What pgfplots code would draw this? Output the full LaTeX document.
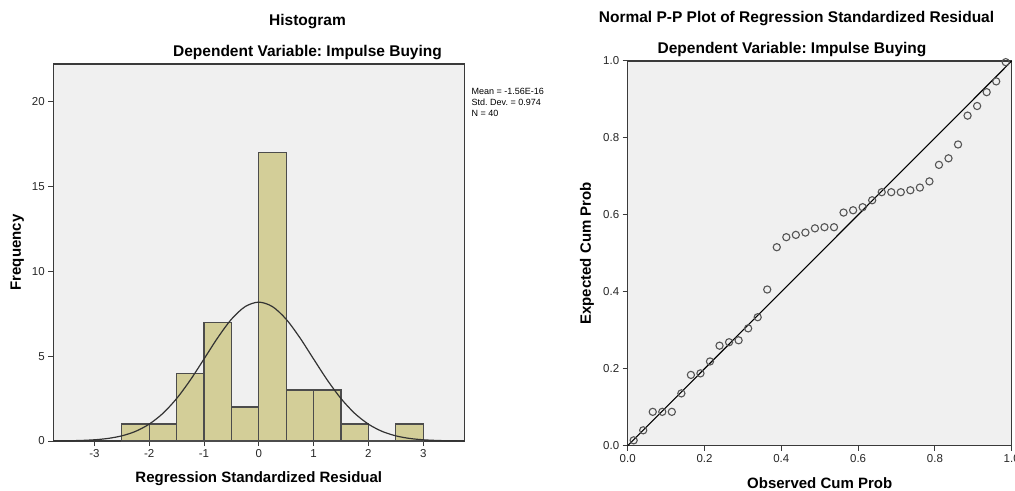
\documentclass[border=0pt]{standalone}
\usepackage{pgfplots}
\pgfplotsset{compat=1.18}
\usepackage{fontspec}
\setmainfont{Liberation Sans}
\frenchspacing
\definecolor{barfill}{HTML}{D3CE98}
\definecolor{bgc}{HTML}{F0F0F0}
\definecolor{axc}{HTML}{3A3A3A}
\definecolor{ptc}{HTML}{555555}
\begin{document}
\begin{tikzpicture}
\pgfplotsset{
  spssaxis/.style={
    scale only axis,
    anchor=south west,
    axis background/.style={fill=bgc},
    axis line style={draw=axc, line width=1.2bp},
    tick align=outside,
    xtick pos=bottom, ytick pos=left,
    major tick length=5bp,
    tick style={draw=axc, line width=1bp},
    tick label style={font=\fontsize{11.5bp}{13bp}\selectfont, text=black!85},
    label style={font=\fontsize{15bp}{18bp}\selectfont\bfseries},
    xlabel style={anchor=center},
    ylabel style={anchor=center, rotate=0},
    /pgf/number format/assume math mode=true,
  }
}
% Histogram
\begin{axis}[spssaxis,
  at={(53.3bp,50bp)}, width=411bp, height=377bp,
  xmin=-3.75, xmax=3.75, ymin=0, ymax=22.24,
  xtick={-3,-2,-1,0,1,2,3}, xticklabels={-3,-2,-1,0,1,2,3},
  ytick={0,5,10,15,20}, yticklabels={0,5,10,15,20},
  xlabel={Regression Standardized Residual},
  ylabel={Frequency},
  xlabel style={at={(axis description cs:0.5,-0.1008)}},
  ylabel style={at={(axis description cs:-0.0876,0.5)}},
]
\addplot[ybar interval, fill=barfill, draw=black!70, line width=1.3bp]
 coordinates {(-2.5,1) (-2,1) (-1.5,4) (-1,7) (-0.5,2) (0,17) (0.5,3) (1,3) (1.5,1) (2,0) (2.5,1) (3,1)};
\addplot[smooth, draw=black!80, line width=1.2bp, mark=none] coordinates {
(-3.75,0.005) (-3.5,0.0129) (-3.25,0.0313) (-3,0.0713) (-2.75,0.152) (-2.5,0.304) (-2.25,0.568) (-2,0.995)
(-1.75,1.631) (-1.5,2.502) (-1.25,3.595) (-1,4.836) (-0.75,6.090) (-0.5,7.181) (-0.25,7.926) (0,8.192)
(0.25,7.926) (0.5,7.181) (0.75,6.090) (1,4.836) (1.25,3.595) (1.5,2.502) (1.75,1.631) (2,0.995)
(2.25,0.568) (2.5,0.304) (2.75,0.152) (3,0.0713) (3.25,0.0313) (3.5,0.0129) (3.75,0.005)};
\end{axis}
% P-P plot
\begin{axis}[spssaxis,
  at={(627.7bp,45.3bp)}, width=384bp, height=384.7bp,
  xmin=0, xmax=1, ymin=0, ymax=1,
  xtick={0,0.2,0.4,0.6,0.8,1}, xticklabels={0.0,0.2,0.4,0.6,0.8,1.0},
  ytick={0,0.2,0.4,0.6,0.8,1}, yticklabels={0.0,0.2,0.4,0.6,0.8,1.0},
  xlabel={Observed Cum Prob},
  ylabel={Expected Cum Prob},
  xlabel style={at={(axis description cs:0.5,-0.0977)}},
  ylabel style={at={(axis description cs:-0.106,0.5)}},
  clip=false,
]
\addplot[draw=black, line width=1.1bp, mark=none] coordinates {(0,0) (1,1)};
\addplot[only marks, mark=o, mark size=3.6bp, mark options={draw=ptc, line width=1.1bp}] coordinates {
(0.01553,0.014) (0.04037,0.040) (0.06522,0.088) (0.09006,0.088) (0.11491,0.088)
(0.13975,0.136) (0.16460,0.184) (0.18944,0.188) (0.21429,0.219) (0.23913,0.260)
(0.26398,0.269) (0.28882,0.274) (0.31366,0.305) (0.33851,0.334) (0.36335,0.406)
(0.38820,0.516) (0.41304,0.542) (0.43789,0.548) (0.46273,0.554) (0.48758,0.565)
(0.51242,0.568) (0.53727,0.568) (0.56211,0.606) (0.58696,0.612) (0.61180,0.620)
(0.63665,0.638) (0.66149,0.659) (0.68634,0.659) (0.71118,0.659) (0.73602,0.664)
(0.76087,0.671) (0.78571,0.687) (0.81056,0.730) (0.83540,0.747) (0.86025,0.783)
(0.88509,0.858) (0.90994,0.883) (0.93478,0.919) (0.95963,0.947) (0.98447,0.997)};
\end{axis}
% Titles
\node[anchor=base, font=\fontsize{15.5bp}{18bp}\selectfont\bfseries] at (307.5bp,465bp) {Histogram};
\node[anchor=base, font=\fontsize{15.5bp}{18bp}\selectfont\bfseries] at (307.5bp,434bp) {Dependent Variable: Impulse Buying};
\node[anchor=base, font=\fontsize{15.5bp}{18bp}\selectfont\bfseries] at (796.5bp,468bp) {Normal P-P Plot of Regression Standardized Residual};
\node[anchor=base, font=\fontsize{15.5bp}{18bp}\selectfont\bfseries] at (792bp,437bp) {Dependent Variable: Impulse Buying};
% Statistics
\node[anchor=base west, inner sep=0pt, font=\fontsize{9bp}{11bp}\selectfont] at (471.5bp,396bp) {Mean = -1.56E-16};
\node[anchor=base west, inner sep=0pt, font=\fontsize{9bp}{11bp}\selectfont] at (471.5bp,385bp) {Std. Dev. = 0.974};
\node[anchor=base west, inner sep=0pt, font=\fontsize{9bp}{11bp}\selectfont] at (471.5bp,374bp) {N = 40};
\pgfresetboundingbox
\path[use as bounding box] (0,0) rectangle (1015bp,491bp);
\end{tikzpicture}
\end{document}
